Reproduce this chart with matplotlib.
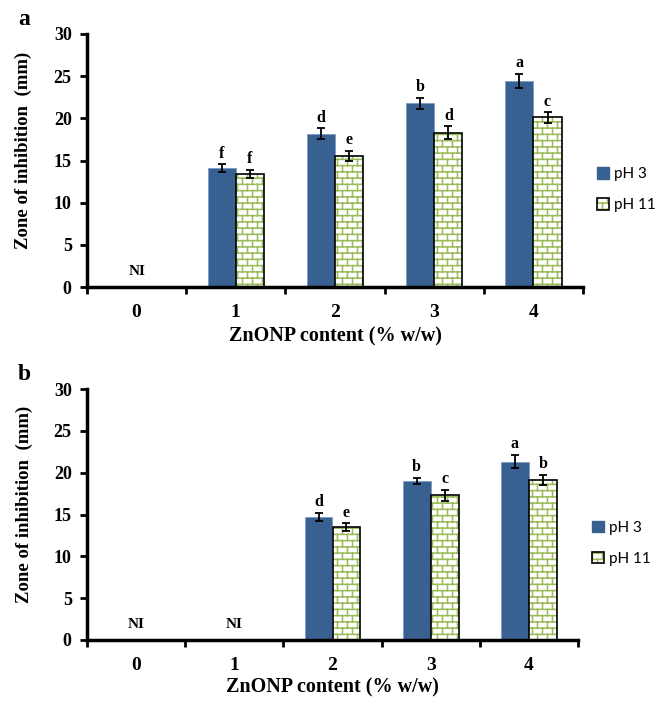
import warnings
import numpy as np
import matplotlib
matplotlib.use("Agg")
import matplotlib.pyplot as plt
from matplotlib import hatch as mhatch
from matplotlib.path import Path
from matplotlib.patches import Patch

warnings.filterwarnings("ignore")

# data
categories = ["0", "1", "2", "3", "4"]
a_ph3 = [0, 14.1, 18.2, 21.8, 24.4]
a_ph3_err = [0, 0.45, 0.6, 0.65, 0.85]
a_ph11 = [0, 13.4, 15.5, 18.3, 20.1]
a_ph11_err = [0, 0.5, 0.6, 0.75, 0.6]
a_ph3_letters = ["", "f", "d", "b", "a"]
a_ph11_letters = ["", "f", "e", "d", "c"]

b_ph3 = [0, 0, 14.7, 19.0, 21.3]
b_ph3_err = [0, 0, 0.5, 0.36, 0.78]
b_ph11 = [0, 0, 13.5, 17.3, 19.15]
b_ph11_err = [0, 0, 0.45, 0.65, 0.58]
b_ph3_letters = ["", "", "d", "b", "a"]
b_ph11_letters = ["", "", "e", "c", "b"]

BLUE = "#386192"
GREEN = "#9BBB59"


# brick hatch (not available in matplotlib, so register one)
class BrickHatch(mhatch.HatchPatternBase):
    rows = 16
    cols = 10

    def __init__(self, hatch, density):
        self.on = "b" in hatch
        self.num_vertices = (self.rows * 2 + (self.rows + 1) * self.cols * 2) if self.on else 0

    def set_vertices_and_codes(self, vertices, codes):
        h = 1.0 / self.rows
        w = 1.0 / self.cols
        segs = []
        for k in range(self.rows):
            y = (k + 0.5) * h
            segs.append(((0.0, y), (1.0, y)))
        for k in range(self.rows):
            y0 = (k + 0.5) * h
            y1 = y0 + h
            for j in range(self.cols):
                x = (j + 0.25 + 0.5 * (k % 2)) * w
                if y1 <= 1.0:
                    segs.append(((x, y0), (x, y1)))
                else:
                    segs.append(((x, y0), (x, 1.0)))
                    segs.append(((x, 0.0), (x, y1 - 1.0)))
        i = 0
        for s in segs:
            vertices[i] = s[0]
            vertices[i + 1] = s[1]
            codes[i] = Path.MOVETO
            codes[i + 1] = Path.LINETO
            i += 2
        while i < self.num_vertices:
            vertices[i] = vertices[i - 1]
            codes[i] = Path.MOVETO
            i += 1


mhatch._hatch_types.append(BrickHatch)

plt.rcParams["hatch.linewidth"] = 1.1
plt.rcParams["font.family"] = "Liberation Serif"
plt.rcParams["font.weight"] = "bold"

fig = plt.figure(figsize=(6.57, 7.03), dpi=100)
ax_a = fig.add_axes([87 / 657, 1 - 287 / 703, 496 / 657, 253 / 703])
ax_b = fig.add_axes([87 / 657, 1 - 640 / 703, 491 / 657, 251 / 703])

w = 0.285


def draw_panel(ax, ph3, ph3_err, ph11, ph11_err, l3, l11, letter, xlab_y):
    x = np.arange(len(categories))
    ax.bar(x - w / 2, ph3, w, color=BLUE, edgecolor="#7A9CC6", linewidth=0.6, zorder=2)
    ax.bar(x + w / 2, ph11, w, color="white", edgecolor=GREEN, linewidth=0, hatch="b", zorder=2)
    ax.bar(x + w / 2, ph11, w, fill=False, edgecolor="black", linewidth=1.2, zorder=3)

    for xs, vals, errs, labs in [(x - w / 2, ph3, ph3_err, l3), (x + w / 2, ph11, ph11_err, l11)]:
        for xi, v, e, lab in zip(xs, vals, errs, labs):
            if v == 0:
                continue
            ax.errorbar(xi, v, yerr=e, fmt="none", ecolor="black", elinewidth=1.3,
                        capsize=2.8, capthick=1.3, zorder=4)
            ax.annotate(lab, (xi, v + e), xytext=(0, 2), textcoords="offset points",
                        ha="center", va="bottom", fontsize=11.5, fontweight="bold")
    for xi, v in zip(x, ph3):
        if v == 0:
            ax.text(xi, 1.8, "NI", ha="center", va="center", fontsize=11, fontweight="bold")

    ax.set_xlim(-0.5, len(categories) - 0.5)
    ax.set_ylim(0, 30)
    ax.set_yticks(range(0, 31, 5))
    ax.set_xticks(x)
    ax.set_xticklabels(categories)
    ax.set_xticks(np.arange(-0.5, len(categories), 1), minor=True)
    ax.tick_params(axis="x", which="major", length=0, pad=12, labelsize=14)
    ax.tick_params(axis="x", which="minor", length=5, width=2, direction="out")
    ax.tick_params(axis="y", length=5, width=2, labelsize=13, pad=6)
    for lab in ax.get_xticklabels() + ax.get_yticklabels():
        lab.set_fontweight("bold")
    for s in ["top", "right"]:
        ax.spines[s].set_visible(False)
    for s in ["left", "bottom"]:
        ax.spines[s].set_linewidth(2.5)
    ax.set_ylabel("Zone of inhibition  (mm)", fontsize=13.5, fontweight="bold", va="center")
    ax.yaxis.set_label_coords(-0.128, 0.54)
    ax.set_xlabel("ZnONP content (% w/w)", fontsize=14.5, fontweight="bold", va="center")
    ax.xaxis.set_label_coords(0.5, xlab_y)

    h3 = Patch(facecolor=BLUE, edgecolor=BLUE)
    h11 = (Patch(facecolor="white", edgecolor=GREEN, linewidth=0, hatch="b"),
           Patch(fill=False, edgecolor="black", linewidth=1.2))
    ax.legend([h3, h11], ["pH 3", "pH 11"], loc="center left", bbox_to_anchor=(1.0, 0.385),
              frameon=False, prop={"family": "Lato", "size": 11, "weight": "normal"},
              handlelength=0.8, handleheight=0.8, handletextpad=0.3, labelspacing=1.1)
    fig.text(ax.get_position().x0 - 0.105, ax.get_position().y1 + 0.02, letter,
             fontsize=17, fontweight="bold", ha="left", va="center")


draw_panel(ax_a, a_ph3, a_ph3_err, a_ph11, a_ph11_err, a_ph3_letters, a_ph11_letters, "a", -0.195)
draw_panel(ax_b, b_ph3, b_ph3_err, b_ph11, b_ph11_err, b_ph3_letters, b_ph11_letters, "b", -0.19)

fig.savefig("out.png", dpi=100)
